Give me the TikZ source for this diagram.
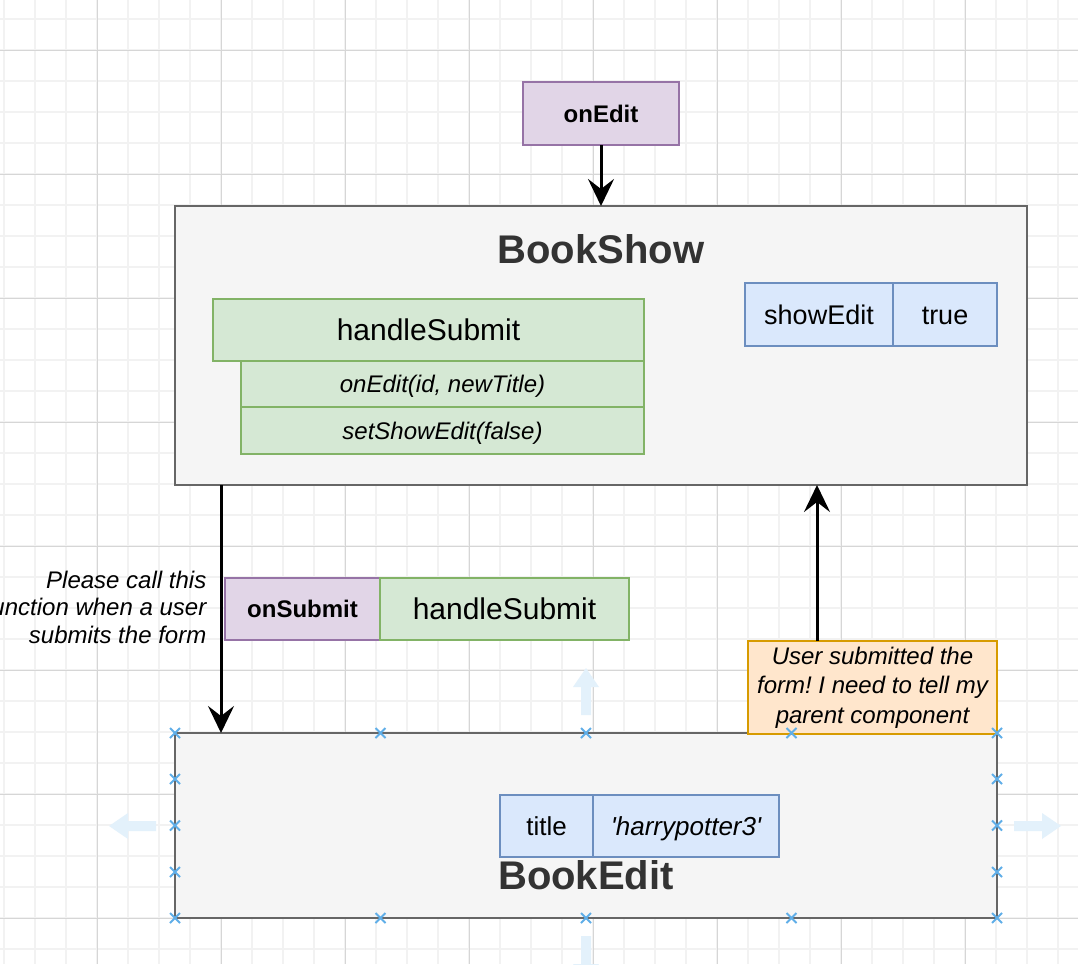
\documentclass[tikz,border=0pt]{standalone}
\usepackage{fontspec}
\setmainfont{Liberation Sans}
\usetikzlibrary{arrows.meta}
\frenchspacing
\definecolor{cGridMinor}{HTML}{F2F2F2}
\definecolor{cGridMajor}{HTML}{D6D6D6}
\definecolor{cGrayF}{HTML}{F5F5F5}
\definecolor{cGrayS}{HTML}{666666}
\definecolor{cGrayT}{HTML}{333333}
\definecolor{cPurF}{HTML}{E1D5E7}
\definecolor{cPurS}{HTML}{9673A6}
\definecolor{cGrnF}{HTML}{D5E8D4}
\definecolor{cGrnS}{HTML}{82B366}
\definecolor{cBluF}{HTML}{DAE8FC}
\definecolor{cBluS}{HTML}{6C8EBF}
\definecolor{cOrgF}{HTML}{FFE6CC}
\definecolor{cOrgS}{HTML}{D79B00}
\definecolor{cMark}{HTML}{5FAEE8}
\definecolor{cHover}{HTML}{E3F1FB}
\tikzset{
  boxbase/.style={draw, line width=2.6pt, inner sep=0pt, outer sep=0pt, text=black},
  compbox/.style={boxbase, draw=cGrayS, fill=cGrayF, line width=2.8pt},
  purbox/.style={boxbase, draw=cPurS, fill=cPurF},
  grnbox/.style={boxbase, draw=cGrnS, fill=cGrnF},
  blubox/.style={boxbase, draw=cBluS, fill=cBluF},
  orgbox/.style={boxbase, draw=cOrgS, fill=cOrgF},
  comptitle/.style={anchor=base, inner sep=0pt, text=cGrayT, font={\fontsize{40}{48}\selectfont\bfseries}},
  tbold/.style={font={\fontsize{24}{28.8}\selectfont\bfseries}, text height=17.3pt, text depth=0pt},
  tbig/.style={font={\fontsize{30}{36}\selectfont}, text height=21.5pt, text depth=0pt},
  tital/.style={font={\fontsize{24}{28.8}\selectfont\itshape}, text height=17.3pt, text depth=0pt},
  tvar/.style={font={\fontsize{27}{32}\selectfont}, text height=19.4pt, text depth=0pt},
  tcell/.style={font={\fontsize{26}{31}\selectfont}, text height=18.7pt, text depth=0pt},
  arr/.style={draw=black, line width=3pt, -{Stealth[length=27pt, width=26pt, inset=10pt]}},
  gminor/.style={draw=cGridMinor, line width=1.3pt},
  gmajor/.style={draw=cGridMajor, line width=1pt},
  xmark/.style={draw=cMark, line width=2pt},
  hover/.style={fill=cHover},
}
\begin{document}
\begin{tikzpicture}[x=1pt,y=-1pt]
\useasboundingbox (0,0) rectangle (1078,964);
\clip (0,0) rectangle (1078,964);
\fill[white] (0,0) rectangle (1078,964);
% grid
\foreach \i in {0,...,34} \draw[gminor] ({4+31*\i},0) -- ({4+31*\i},964);
\foreach \i in {0,...,30} \draw[gminor] (0,{19+31*\i}) -- (1078,{19+31*\i});
\foreach \i in {0,...,7} \draw[gmajor] ({97+124*\i},0) -- ({97+124*\i},964);
\foreach \i in {0,...,7} \draw[gmajor] (0,{50+124*\i}) -- (1078,{50+124*\i});

% BookShow
\node[compbox, minimum width=852pt, minimum height=279pt] (bookshow) at (601,345.5) {};
\node[comptitle] (bookshowlbl) at (601,263) {BookShow};
\node[grnbox, tbig, minimum width=431pt, minimum height=62pt] (hshead) at (428.5,330) {handleSubmit};
\node[grnbox, tital, minimum width=403pt, minimum height=46pt] (hsrow1) at (442.5,384) {onEdit(id, newTitle)};
\node[grnbox, tital, minimum width=403pt, minimum height=47pt] (hsrow2) at (442.5,430.5) {setShowEdit(false)};
\node[blubox, tvar, minimum width=148pt, minimum height=63pt] (showedit) at (819,314.5) {showEdit};
\node[blubox, tvar, minimum width=104pt, minimum height=63pt] (showval) at (945,314.5) {true};

% onEdit prop
\node[purbox, tbold, minimum width=156pt, minimum height=63pt] (onedit) at (601,113.5) {onEdit};

% BookEdit
\node[compbox, minimum width=822pt, minimum height=185pt] (bookedit) at (586,825.5) {};
\node[blubox, tcell, minimum width=93pt, minimum height=62pt] (titlekey) at (546.5,826) {title};
\node[blubox, tcell, minimum width=186pt, minimum height=62pt] (titleval) at (686,826) {\itshape\textquotesingle harrypotter3\textquotesingle};
\node[comptitle] (bookeditlbl) at (586,889) {BookEdit};

% note
\node[orgbox, minimum width=249pt, minimum height=93pt, align=center, font={\fontsize{24}{29.5}\selectfont\itshape}] (note) at (872.5,687.5) {User submitted the\\form! I need to tell my\\parent component};

% onSubmit prop
\node[purbox, tbold, minimum width=155pt, minimum height=62pt] (onsubmit) at (302.5,609) {onSubmit};
\node[grnbox, tbig, minimum width=249pt, minimum height=62pt] (onsubmitval) at (504.5,609) {handleSubmit};

% comment
\node[anchor=north east, inner sep=0pt, align=right, font={\fontsize{24}{27.8}\selectfont\itshape}] (callnote) at (206.5,570.5) {Please call this\\function when a user\\submits the form};

% connectors
\draw[arr] (onedit.south) -- (bookshow.north);
\draw[arr] ([xshift=46pt]bookshow.south west) coordinate (dn0) -- (dn0 |- bookedit.north);
\draw[arr] ([xshift=69pt]note.north west) coordinate (up0) -- (up0 |- bookshow.south);

% hover arrows
\fill[hover] (581,715) -- (581,687) -- (573,687) -- (586,668) -- (599,687) -- (591,687) -- (591,715) -- cycle;
\fill[hover] (581,936) -- (581,964) -- (573,964) -- (586,983) -- (599,964) -- (591,964) -- (591,936) -- cycle;
\fill[hover] (156,821) -- (128,821) -- (128,813) -- (109,826) -- (128,839) -- (128,831) -- (156,831) -- cycle;
\fill[hover] (1014,821) -- (1042,821) -- (1042,813) -- (1061,826) -- (1042,839) -- (1042,831) -- (1014,831) -- cycle;

% markers
\foreach \mx/\my in {175/733, 380.5/733, 586/733, 791.5/733, 997/733, 175/918, 380.5/918, 586/918, 791.5/918, 997/918, 175/779, 175/825.5, 175/872, 997/779, 997/825.5, 997/872}
  \draw[xmark] ({\mx-5},{\my-5}) -- ({\mx+5},{\my+5}) ({\mx-5},{\my+5}) -- ({\mx+5},{\my-5});
\end{tikzpicture}
\end{document}
